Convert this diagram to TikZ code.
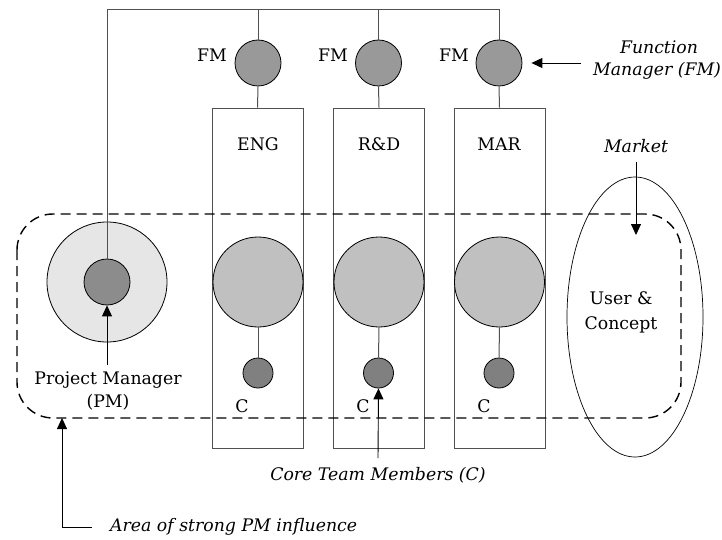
\documentclass[tikz,border=0pt]{standalone}
\usepackage{fontspec}
\setmainfont{DejaVu Serif}
\usetikzlibrary{arrows.meta,shapes.geometric}
\definecolor{fmgray}{HTML}{999999}
\definecolor{biggray}{HTML}{C0C0C0}
\definecolor{cgray}{HTML}{808080}
\definecolor{pmlight}{HTML}{E6E6E6}
\definecolor{pmdark}{HTML}{8C8C8C}
\definecolor{linegray}{HTML}{505050}
\tikzset{
  every node/.style={font=\fontsize{17.3}{20}\selectfont, inner sep=0pt},
  disc/.style={circle, draw=black, line width=0.8pt},
  fmcirc/.style={disc, fill=fmgray, minimum size=46pt},
  bigcirc/.style={disc, fill=biggray, minimum size=90pt},
  ccirc/.style={disc, fill=cgray, minimum size=30pt},
  funcbox/.style={rectangle, draw=linegray, line width=0.9pt, minimum width=91pt, minimum height=340pt},
  conn/.style={draw=linegray, line width=1pt},
  callout/.style={draw=black, line width=0.9pt, -{Triangle[length=11pt,width=10pt]}},
  note/.style={font=\fontsize{17.3}{20}\selectfont\itshape},
  zone/.style={draw=black, line width=1.4pt, dash pattern=on 10pt off 6pt, rounded corners=36pt},
}
\begin{document}
\begin{tikzpicture}[x=1pt,y=-1pt]
\useasboundingbox (0,0) rectangle (722,540);

% functional columns
\node[funcbox] (engbox) at (257.5,278) {};
\node[funcbox] (rdbox)  at (379,278) {};
\node[funcbox] (marbox) at (499.5,278) {};

% function managers
\node[fmcirc] (fm1) at (258,63) {};
\node[fmcirc] (fm2) at (378.5,63) {};
\node[fmcirc] (fm3) at (499,63) {};

% project manager
\node[disc, fill=pmlight, minimum size=120pt] (pmout) at (107,282) {};
\node[disc, fill=pmdark, minimum size=46pt] (pmin) at (107,282) {};

% reporting lines across the top
\coordinate (topL) at (107,10);
\coordinate (top1) at (258,10);
\coordinate (top2) at (378.5,10);
\draw[conn] (pmin.north) -- (topL) -| (fm3.north);
\draw[conn] (top1) -- (fm1.north);
\draw[conn] (top2) -- (fm2.north);
\draw[conn] (fm1.south) -- (engbox.north);
\draw[conn] (fm2.south) -- (rdbox.north);
\draw[conn] (fm3.south) -- (marbox.north);

% function representatives and core team members
\node[bigcirc] (big1) at (258,282) {};
\node[bigcirc] (big2) at (379,282) {};
\node[bigcirc] (big3) at (499.5,282) {};
\node[ccirc] (c1) at (258,373) {};
\node[ccirc] (c2) at (378.5,373) {};
\node[ccirc] (c3) at (499,373) {};
\draw[conn] (big1.south) -- (c1.north);
\draw[conn] (big2.south) -- (c2.north);
\draw[conn] (big3.south) -- (c3.north);

% market
\node[ellipse, draw=black, line width=0.7pt, minimum width=136pt, minimum height=280pt] (market) at (635,317) {};

% area of strong PM influence
\draw[zone] (17,214) rectangle (681,418);

% labels
\node (fml1) at (212,55) {FM};
\node (fml2) at (333,55) {FM};
\node (fml3) at (454,55) {FM};
\node (eng) at (258,144) {ENG};
\node (rd)  at (379,144) {R\&D};
\node (mar) at (499,144) {MAR};
\node (cl1) at (242,406) {C};
\node (cl2) at (363,406) {C};
\node (cl3) at (484,406) {C};
\node (pml1) at (108,380) {Project Manager};
\node (pml2) at (108,402) {(PM)};
\node[align=center, font=\fontsize{17.3}{25}\selectfont] (uc) at (621,312) {User \&\\Concept};
\node[note] (mkt) at (636,146) {Market};
\node[note] (fn1) at (659,47) {Function};
\node[note, anchor=west] (fn2) at (593,71) {Manager (FM)};
\node[note] (core) at (378,475) {Core Team Members (C)};
\node[note, anchor=west] (area) at (110,527) {Area of strong PM influence};

% callout arrows
\coordinate (fmtail) at (581,63);
\coordinate (mkttail) at (636,162);
\coordinate (mkttip) at (636,235);
\coordinate (pmtail) at (107,365);
\coordinate (coretail) at (378,458);
\coordinate (areatail) at (92,527);
\coordinate (areatip) at (62,418);
\draw[callout] (fmtail) -- ([xshift=9pt]fm3.east);
\draw[callout] (mkttail) -- (mkttip);
\draw[callout] (pmtail) -- (pmin.south);
\draw[callout] (coretail) -- (c2.south);
\draw[callout] (areatail) -| (areatip);
\end{tikzpicture}
\end{document}
